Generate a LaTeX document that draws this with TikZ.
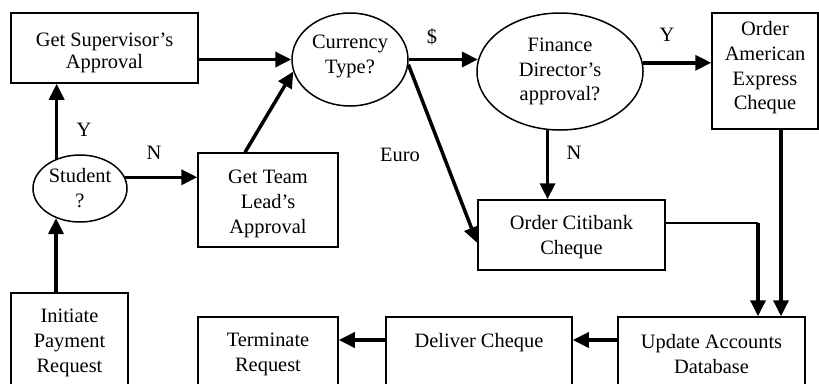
\documentclass[tikz,border=0pt]{standalone}
\usepackage{fontspec}
\setmainfont{Liberation Serif}
\usetikzlibrary{arrows.meta,shapes.geometric}
% struts that pad a node's text box above (first line) or below (last line)
\newcommand\padabove[1]{\rule{0pt}{#1}}
\newcommand\padbelow[1]{\rule[-#1]{0pt}{0pt}}

\begin{document}
\begin{tikzpicture}[x=1bp,y=-1bp,
  every node/.style={font=\fontsize{20.5}{25}\selectfont, inner sep=0pt},
  procbox/.style={draw, line width=1.5bp, rectangle, align=center},
  decision/.style={draw, line width=1.5bp, ellipse, align=center},
  flow/.style={line width=3.5bp, -{Triangle[length=16bp,width=15bp]}},
  thinflow/.style={line width=1.5bp}]
\clip (0,0) rectangle (819,383);

% process boxes
\node[procbox, minimum width=187bp, minimum height=70bp,
      font=\fontsize{20.5}{22}\selectfont] (sup) at (104.5,48)
  {\padabove{23bp}Get Supervisor’s\\Approval};
\node[procbox, minimum width=140bp, minimum height=94bp] (team) at (268,200)
  {\padabove{22bp}Get Team\\Lead’s\\Approval};
\node[procbox, minimum width=117bp, minimum height=100bp] (init) at (69.5,343)
  {Initiate\\Payment\\Request};
\node[procbox, minimum width=140bp, minimum height=71bp] (term) at (268,352.5)
  {\padabove{18bp}Terminate\\Request};
\node[procbox, minimum width=186bp, minimum height=71bp] (del) at (479,352.5)
  {Deliver Cheque\\\mbox{}};
\node[procbox, minimum width=187bp, minimum height=71bp] (upd) at (711.5,352.5)
  {\padabove{18bp}Update Accounts\\Database};
\node[procbox, minimum width=187bp, minimum height=70bp] (citi) at (571.5,235)
  {\padabove{19bp}Order Citibank\\Cheque};
\node[procbox, minimum width=106bp, minimum height=116bp] (amex) at (765,71)
  {Order\\American\\Express\\Cheque\padbelow{11bp}};

% decisions
\node[decision, minimum width=94bp, minimum height=67bp] (stu) at (80,188.5)
  {Student\\?};
\node[decision, minimum width=116bp, minimum height=93bp] (cur) at (350,59.5)
  {Currency\\Type?\padbelow{10bp}};
\node[decision, minimum width=166bp, minimum height=117bp] (fin) at (560,71.5)
  {Finance\\Director’s\\approval?};

% branch labels
\node (lblStuY) at (84,130) {Y};
\node (lblStuN) at (154,153) {N};
\node (lblEuro) at (400,155) {Euro};
\node (lblDollar) at (432,37) {\$};
\node (lblFinY) at (667,35) {Y};
\node (lblFinN) at (574,153) {N};

% connectors
\draw[flow] (init.north -| stu.231.8) -- (stu.231.8);
\draw[flow] (stu.128.2) -- (stu.128.2 |- sup.south);
\draw[flow] (stu.14.6) -- (stu.14.6 -| team.west);
\draw[flow] ([xshift=-23bp]team.north) -- (cur.192);
\draw[flow] (sup.east |- cur.west) -- (cur.west);
\draw[flow] (cur.east) -- (fin.172 |- cur.east);
\draw[flow] (fin.6.6) -- (fin.6.6 -| amex.west);
\draw[flow] (fin.258.2) -- (fin.258.2 |- citi.north);
\draw[flow] (cur.-5) -- ([yshift=-8bp]citi.west);

\coordinate (citiOut) at ([yshift=12bp]citi.east);
\coordinate (bend) at ([xshift=46.5bp]citiOut -| upd.north);
\draw[thinflow] (citiOut) -- (bend);
\draw[flow] (bend) -- (bend |- upd.north);

\draw[flow] ([xshift=16bp]amex.south) -- ([xshift=16bp]amex.south |- upd.north);
\draw[flow] ([yshift=12.5bp]upd.west) -- ([yshift=12.5bp]upd.west -| del.east);
\draw[flow] ([yshift=12.5bp]del.west) -- ([yshift=12.5bp]del.west -| term.east);
\end{tikzpicture}
\end{document}
